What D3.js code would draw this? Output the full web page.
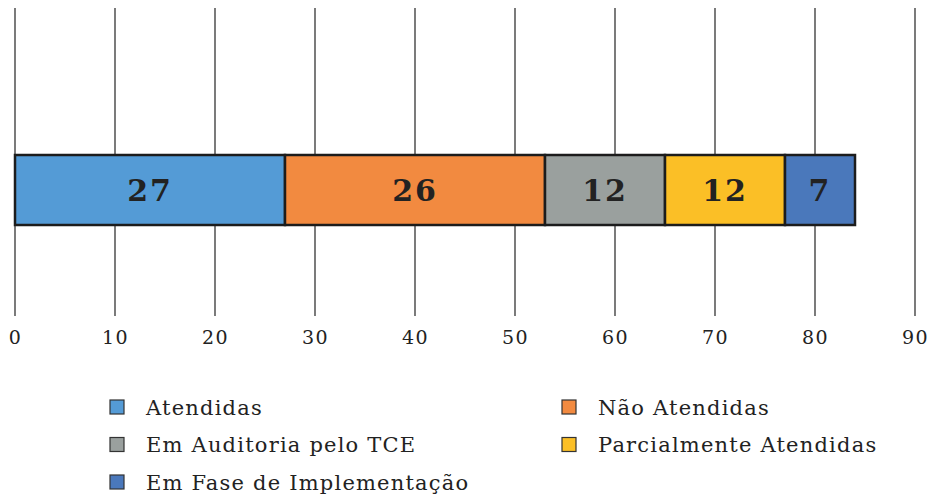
<!DOCTYPE html>
<html>
<head>
<meta charset="utf-8">
<script src="https://cdn.jsdelivr.net/npm/d3@7"></script>
<style>
body { margin: 0; background: #fff; }
text { font-family: "DejaVu Serif", serif; fill: #222; }
</style>
</head>
<body>
<script>
var categories = ['Atendidas', 'Não Atendidas', 'Em Auditoria pelo TCE', 'Parcialmente Atendidas', 'Em Fase de Implementação'];
var values = [27, 26, 12, 12, 7];
var colors = ['#549bd6', '#f28a40', '#9aa09e', '#fbbf26', '#4a78bb'];
var tickValues = [0, 10, 20, 30, 40, 50, 60, 70, 80, 90];

var WIDTH = 935, HEIGHT = 494;

var _svg = d3.select('body').append('svg')
    .attr('width', WIDTH)
    .attr('height', HEIGHT);

var _xScale = d3.scaleLinear()
    .domain([0, 90])
    .range([15, 915]);

// stack the single bar
var segs = [];
var acc = 0;
values.forEach(function(v, i) {
    segs.push({name: categories[i], value: v, x0: acc, x1: acc + v, color: colors[i]});
    acc += v;
});

// gridlines
var grid = _svg.append('g');
grid.selectAll('line').data(tickValues)
    .enter()
    .append('line')
        .attr('x1', function(d) { return _xScale(d); })
        .attr('x2', function(d) { return _xScale(d); })
        .attr('y1', 8)
        .attr('y2', 316)
        .attr('stroke', '#333')
        .attr('stroke-width', 1.3);

var axis = d3.axisBottom(_xScale).tickValues(tickValues).tickSize(0).tickPadding(0);
var ax = _svg.append('g')
    .attr('transform', 'translate(0,' + 330 + ')')
    .call(axis);
ax.select('.domain').remove();
ax.selectAll('text')
    .style('font-family', '"DejaVu Serif", serif')
    .style('font-size', '19px')
    .style('letter-spacing', '1.5px')
    .attr('fill', '#222');

// bar
var bar = _svg.append('g');
bar.selectAll('rect').data(segs)
    .enter()
    .append('rect')
        .attr('x', function(d) { return _xScale(d.x0); })
        .attr('width', function(d) { return _xScale(d.x1) - _xScale(d.x0); })
        .attr('y', 155)
        .attr('height', 70)
        .attr('fill', function(d) { return d.color; })
        .attr('stroke', '#1c1c1c')
        .attr('stroke-width', 2.5);

bar.selectAll('text').data(segs)
    .enter()
    .append('text')
        .attr('x', function(d) { return (_xScale(d.x0) + _xScale(d.x1)) / 2; })
        .attr('y', 190)
        .attr('dy', '0.36em')
        .attr('text-anchor', 'middle')
        .style('font-size', '30px')
        .style('font-weight', 'bold')
        .style('letter-spacing', '2px')
        .text(function(d) { return d.value; });

// legend, two columns, row order left to right
var legendOrder = [0, 1, 2, 3, 4];
var legend = _svg.append('g');
var items = legend.selectAll('g').data(legendOrder)
    .enter()
    .append('g')
        .attr('transform', function(d, i) {
            var col = i % 2, row = Math.floor(i / 2);
            return 'translate(' + (col ? 562 : 110) + ',' + (407 + row * 37.5) + ')';
        });

items.append('rect')
    .attr('x', 0)
    .attr('y', -7)
    .attr('width', 14)
    .attr('height', 14)
    .attr('fill', function(d) { return colors[d]; })
    .attr('stroke', '#333')
    .attr('stroke-width', 1.2);

items.append('text')
    .attr('x', 36)
    .attr('y', 0)
    .attr('dy', '0.36em')
    .style('font-size', '21px')
    .style('letter-spacing', '1.2px')
    .text(function(d) { return categories[d]; });
</script>
</body>
</html>
